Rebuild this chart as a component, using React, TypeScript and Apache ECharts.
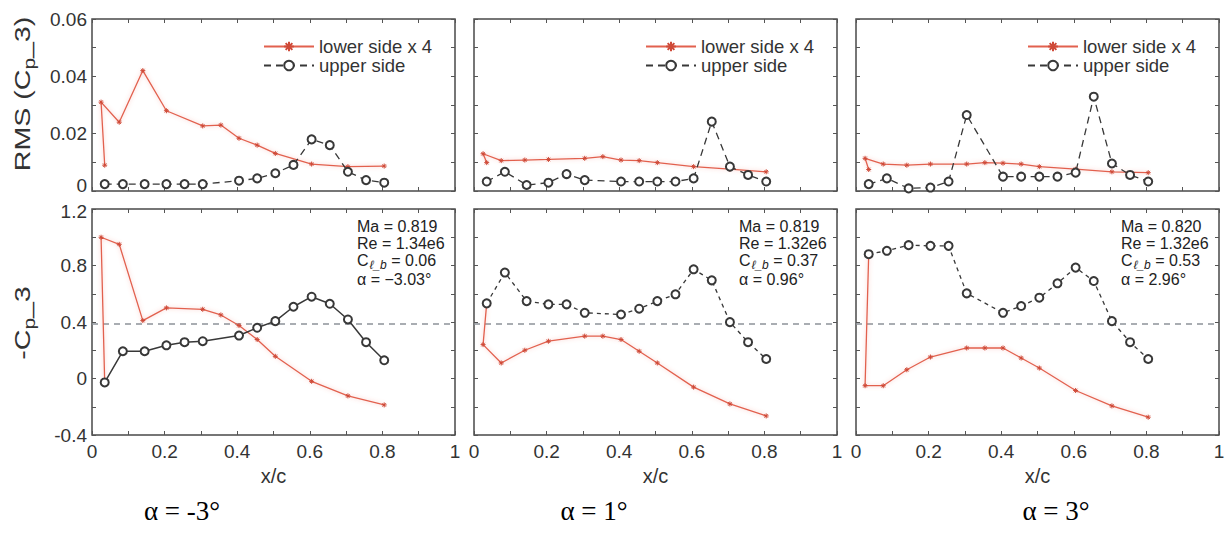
import React, { useEffect, useRef } from "react";
import * as echarts from "echarts";

// Axis ticks
const xTicks = [0, 0.2, 0.4, 0.6, 0.8, 1];
const rmsTicks = [0, 0.02, 0.04, 0.06];
const cpTicks = [-0.4, 0, 0.4, 0.8, 1.2];

// Pressure tap positions (x/c); the lower list starts at the shared leading-edge tap
const upperX = [0.035, 0.085, 0.145, 0.205, 0.255, 0.305, 0.405, 0.455, 0.505, 0.555, 0.605, 0.655, 0.705, 0.755, 0.805];
const lowerX = [0.035, 0.025, 0.075, 0.14, 0.205, 0.305, 0.355, 0.405, 0.455, 0.505, 0.605, 0.705, 0.805];

// RMS of Cp_3 (lower side scaled x 4)
const rmsLowerM3 = [0.009, 0.031, 0.024, 0.042, 0.028, 0.0227, 0.023, 0.0184, 0.016, 0.0131, 0.0094, 0.0085, 0.0087];
const rmsUpperM3 = [0.0024, 0.0024, 0.0024, 0.0024, 0.0024, 0.0024, 0.0036, 0.0044, 0.0062, 0.0091, 0.018, 0.016, 0.0067, 0.0038, 0.0029];
const rmsLowerP1 = [0.0099, 0.013, 0.0106, 0.0108, 0.011, 0.0114, 0.012, 0.0108, 0.0106, 0.0099, 0.0085, 0.0076, 0.0067];
const rmsUpperP1 = [0.0033, 0.0067, 0.0021, 0.0029, 0.0059, 0.0038, 0.0033, 0.0033, 0.0033, 0.0033, 0.0044, 0.0242, 0.0085, 0.0056, 0.0033];
const rmsLowerP3 = [0.0075, 0.0114, 0.0094, 0.009, 0.0094, 0.0094, 0.0099, 0.0097, 0.0094, 0.0085, 0.0076, 0.0067, 0.0064];
const rmsUpperP3 = [0.0024, 0.0044, 0.0009, 0.0012, 0.0033, 0.0265, 0.005, 0.005, 0.005, 0.005, 0.0064, 0.0329, 0.0096, 0.0056, 0.0033];

// Mean -Cp_3
const cpLowerM3 = [-0.028, 1.0, 0.95, 0.41, 0.5, 0.49, 0.45, 0.375, 0.276, 0.157, -0.02, -0.123, -0.187];
const cpUpperM3 = [-0.028, 0.193, 0.193, 0.235, 0.257, 0.264, 0.304, 0.359, 0.406, 0.508, 0.579, 0.529, 0.418, 0.257, 0.129];
const cpLowerP1 = [0.532, 0.24, 0.11, 0.2, 0.264, 0.3, 0.3, 0.276, 0.193, 0.11, -0.061, -0.18, -0.265];
const cpUpperP1 = [0.532, 0.75, 0.548, 0.525, 0.525, 0.465, 0.453, 0.494, 0.548, 0.596, 0.773, 0.695, 0.399, 0.257, 0.138];
const cpLowerP3 = [0.88, -0.051, -0.051, 0.062, 0.152, 0.216, 0.216, 0.216, 0.145, 0.074, -0.085, -0.194, -0.274];
const cpUpperP3 = [0.88, 0.904, 0.944, 0.939, 0.939, 0.603, 0.465, 0.513, 0.572, 0.674, 0.785, 0.69, 0.406, 0.257, 0.138];

// Sonic reference level of -Cp
const sonicLevel = 0.39;

// Flow conditions per case
const machNumbers = ["0.819", "0.819", "0.820"];
const reynolds = ["1.34e6", "1.32e6", "1.32e6"];
const liftCoeffs = ["0.06", "0.37", "0.53"];
const alphaMeasured = ["\u22123.03\u00b0", "0.96\u00b0", "2.96\u00b0"];
const captions = ["\u03b1 = -3\u00b0", "\u03b1 = 1\u00b0", "\u03b1 = 3\u00b0"];

const LOWER_NAME = "lower side x 4";
const UPPER_NAME = "upper side";

const FONT = '"Liberation Sans", Arial, Helvetica, sans-serif';
const SERIF = '"Liberation Serif", "Times New Roman", serif';
const RED = "#e2614e";
const DARK = "#383838";
const ASTERISK = "path://M0,5L10,5M5,0L5,10M1.5,1.5L8.5,8.5M8.5,1.5L1.5,8.5";

const cases = [
  { rmsLower: rmsLowerM3, rmsUpper: rmsUpperM3, cpLower: cpLowerM3, cpUpper: cpUpperM3, upperSolid: true },
  { rmsLower: rmsLowerP1, rmsUpper: rmsUpperP1, cpLower: cpLowerP1, cpUpper: cpUpperP1, upperSolid: false },
  { rmsLower: rmsLowerP3, rmsUpper: rmsUpperP3, cpLower: cpLowerP3, cpUpper: cpUpperP3, upperSolid: false },
];

const colLeft = [92, 474, 856];
const panelW = 363;
const rowBox = [
  { top: 19, height: 172 },
  { top: 209, height: 226 },
];

const zip = (xs: number[], ys: number[]) => xs.map((x, i) => [x, ys[i]]);

function buildOption() {
  const grid: any[] = [];
  const xAxis: any[] = [];
  const yAxis: any[] = [];
  const topSeries: any[] = [];
  const bottomSeries: any[] = [];
  const graphic: any[] = [];

  const tickStyle = { color: "#555", width: 1 };
  const labelFont = { color: "#333", fontSize: 19, fontFamily: FONT };

  for (let row = 0; row < 2; row++) {
    const ticks = row === 0 ? rmsTicks : cpTicks;
    // nudge the two labels that meet between the stacked panels apart
    const edgeValue = row === 0 ? ticks[0] : ticks[ticks.length - 1];
    const yFormatter = (v: number) => (Math.abs(v - edgeValue) < 1e-9 ? "{edge|" + v + "}" : String(v));
    const edgeRich = {
      edge: { ...labelFont, padding: row === 0 ? [0, 0, 12, 0] : [4, 0, 0, 0] },
    };
    for (let col = 0; col < 3; col++) {
      const gi = grid.length;
      grid.push({
        left: colLeft[col],
        top: rowBox[row].top,
        width: panelW,
        height: rowBox[row].height,
        show: true,
        borderColor: "#4a4a4a",
        borderWidth: 1.5,
        containLabel: false,
        outerBoundsMode: "none",
      });
      ["bottom", "top"].forEach((pos) => {
        const labelled = pos === "bottom" && row === 1;
        xAxis.push({
          type: "value",
          gridIndex: gi,
          position: pos,
          min: xTicks[0],
          max: xTicks[xTicks.length - 1],
          interval: xTicks[1] - xTicks[0],
          axisLine: { show: false, onZero: false },
          axisTick: { show: true, inside: true, length: 4, lineStyle: tickStyle },
          minorTick: { show: true, splitNumber: 2, length: 4, lineStyle: tickStyle },
          splitLine: { show: false },
          axisLabel: { show: labelled, ...labelFont, margin: 7 },
          name: labelled ? "x/c" : "",
          nameLocation: "middle",
          nameGap: 31,
          nameTextStyle: { color: "#333", fontSize: 20, fontFamily: FONT },
        });
      });
      ["left", "right"].forEach((pos) => {
        const labelled = pos === "left" && col === 0;
        yAxis.push({
          type: "value",
          gridIndex: gi,
          position: pos,
          min: ticks[0],
          max: ticks[ticks.length - 1],
          interval: ticks[1] - ticks[0],
          axisLine: { show: false, onZero: false },
          axisTick: { show: true, inside: true, length: 4, lineStyle: tickStyle },
          minorTick: { show: true, splitNumber: 2, length: 4, lineStyle: tickStyle },
          splitLine: { show: false },
          axisLabel: { show: labelled, ...labelFont, margin: 5, formatter: yFormatter, rich: edgeRich },
        });
      });

      const c = cases[col];
      const lower = row === 0 ? c.rmsLower : c.cpLower;
      const upper = row === 0 ? c.rmsUpper : c.cpUpper;
      const target = row === 0 ? topSeries : bottomSeries;
      const redSeries: any = {
        type: "line",
        name: LOWER_NAME,
        xAxisIndex: gi * 2,
        yAxisIndex: gi * 2,
        data: zip(lowerX, lower),
        symbol: ASTERISK,
        symbolSize: 5,
        lineStyle: { color: RED, width: 1.3, shadowColor: "rgba(240,120,110,0.45)", shadowBlur: 4 },
        itemStyle: { color: RED, borderColor: "#cf4a38", borderWidth: 1 },
        z: 2,
      };
      if (row === 1) {
        redSeries.markLine = {
          silent: true,
          symbol: ["none", "none"],
          label: { show: false },
          lineStyle: { color: "#8d9299", type: [6, 5], width: 1.6 },
          data: [{ yAxis: sonicLevel }],
          z: 1,
        };
      }
      const dashed = row === 0 ? [7, 5] : [4, 4];
      target.push(redSeries);
      target.push({
        type: "line",
        name: UPPER_NAME,
        xAxisIndex: gi * 2,
        yAxisIndex: gi * 2,
        data: zip(upperX, upper),
        symbol: "emptyCircle",
        symbolSize: 8,
        lineStyle: {
          color: DARK,
          width: row === 1 && c.upperSolid ? 1.5 : 1.3,
          type: row === 1 && c.upperSolid ? "solid" : dashed,
        },
        itemStyle: { color: DARK, borderColor: DARK, borderWidth: 1 },
        z: 3,
      });
    }
  }

  // flow-condition notes in the -Cp panels
  for (let col = 0; col < 3; col++) {
    const x0 = colLeft[col] + panelW - 98;
    const base = { fill: "#222", fontSize: 16, fontFamily: FONT };
    graphic.push({ type: "text", x: x0, y: 226, style: { ...base, text: "Ma = " + machNumbers[col], verticalAlign: "middle" } });
    graphic.push({ type: "text", x: x0, y: 243, style: { ...base, text: "Re = " + reynolds[col], verticalAlign: "middle" } });
    graphic.push({
      type: "text",
      x: x0,
      y: 252,
      style: {
        ...base,
        text: "{t|C}{s|\u2113_b}{t| = " + liftCoeffs[col] + "}",
        rich: {
          t: { fontSize: 16, fontFamily: FONT, fill: "#222", verticalAlign: "top", lineHeight: 16 },
          s: { fontSize: 12, fontFamily: FONT, fontStyle: "italic", fill: "#222", verticalAlign: "top", lineHeight: 10, padding: [7, 0, 0, 1] },
        },
      },
    });
    graphic.push({ type: "text", x: x0, y: 279, style: { ...base, text: "\u03b1 = " + alphaMeasured[col], verticalAlign: "middle" } });

    graphic.push({
      type: "text",
      x: [182, 594, 1056][col],
      y: 511,
      style: { text: captions[col], fill: "#000", fontSize: 27, fontFamily: SERIF, align: "center", verticalAlign: "middle" },
    });
  }

  // rotated y-axis titles with subscript p
  const yTitleRich = {
    a: { fontSize: 22, fontFamily: FONT, fill: "#333", verticalAlign: "top", lineHeight: 24 },
    s: { fontSize: 16, fontFamily: FONT, fill: "#333", verticalAlign: "top", lineHeight: 16, padding: [10, 0, 0, 0] },
  };
  graphic.push({
    type: "text",
    x: 11,
    y: 94,
    rotation: Math.PI / 2,
    scaleX: 1.3,
    style: { text: "{a|RMS (C}{s|p}{a|_3)}", rich: yTitleRich, align: "center", verticalAlign: "top" },
  });
  graphic.push({
    type: "text",
    x: 11,
    y: 323,
    rotation: Math.PI / 2,
    scaleX: 1.3,
    style: { text: "{a|-C}{s|p}{a|_3}", rich: yTitleRich, align: "center", verticalAlign: "top" },
  });

  const legend = colLeft.map((l) => ({
    data: [LOWER_NAME, UPPER_NAME],
    orient: "vertical",
    left: l + 171,
    top: 37,
    itemWidth: 50,
    itemHeight: 12,
    itemGap: 0,
    padding: 0,
    selectedMode: false,
    textStyle: { color: "#333", fontSize: 18.5, fontFamily: FONT, lineHeight: 15 },
  }));

  return {
    animation: false,
    backgroundColor: "#fff",
    textStyle: { fontFamily: FONT },
    grid,
    xAxis,
    yAxis,
    legend,
    series: [...topSeries, ...bottomSeries],
    graphic,
  };
}

export default function App() {
  const ref = useRef<HTMLDivElement>(null);
  useEffect(() => {
    if (!ref.current) return;
    const chart = echarts.init(ref.current, null, { renderer: "svg" });
    chart.setOption(buildOption() as any);
    return () => chart.dispose();
  }, []);
  return (
    <div
      ref={ref}
      style={{ position: "fixed", left: 0, top: 0, width: 1226, height: 547, background: "#fff" }}
    />
  );
}
